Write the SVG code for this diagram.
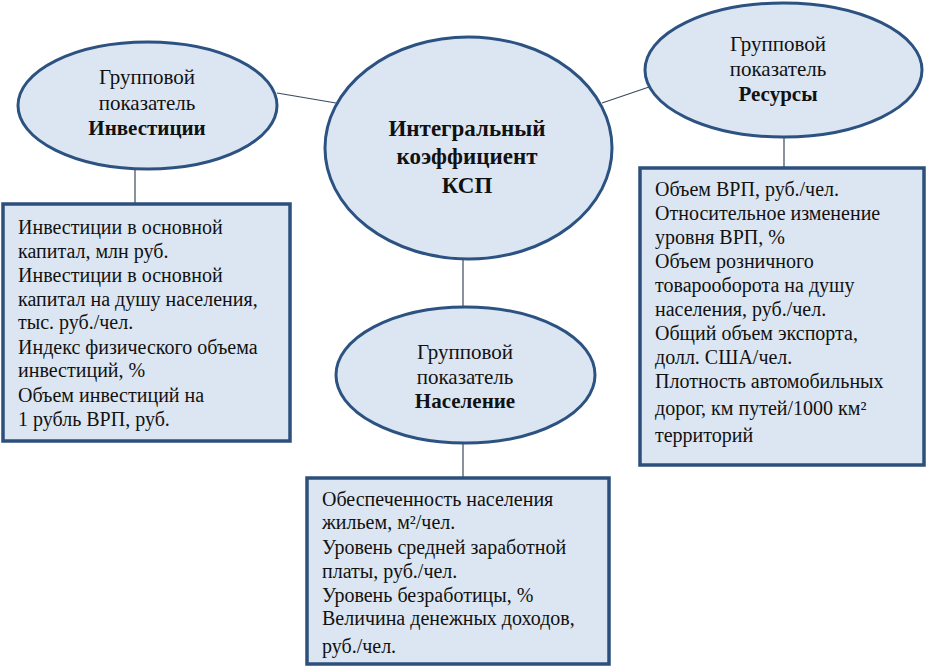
<svg xmlns="http://www.w3.org/2000/svg" width="926" height="670" viewBox="0 0 926 670">
<rect width="926" height="670" fill="#ffffff"/>
<g id="connectors" stroke="#3a4a5c" stroke-width="1.2">
<line x1="277" y1="93" x2="336" y2="103"/>
<line x1="602" y1="103" x2="652" y2="86"/>
<line x1="135" y1="169" x2="135" y2="204"/>
<line x1="784" y1="137" x2="784" y2="168"/>
<line x1="463" y1="259" x2="463" y2="307"/>
<line x1="463" y1="443" x2="463" y2="478"/>
</g>
<g id="center">
<ellipse fill="#dce6f2" stroke="#2c5282" stroke-width="3" cx="468.5" cy="148" rx="143.5" ry="111"/>
<text font-family="Liberation Serif" font-size="23" font-weight="bold" fill="#111" text-anchor="middle" x="467" y="136">Интегральный</text>
<text font-family="Liberation Serif" font-size="23" font-weight="bold" fill="#111" text-anchor="middle" x="467" y="164">коэффициент</text>
<text font-family="Liberation Serif" font-size="23" font-weight="bold" fill="#111" text-anchor="middle" x="467" y="193">КСП</text>
</g>
<g id="invest">
<ellipse fill="#dce6f2" stroke="#2c5282" stroke-width="3" cx="147.5" cy="105.5" rx="129.5" ry="63.5"/>
<text font-family="Liberation Serif" font-size="21" fill="#111" text-anchor="middle" x="147" y="84">Групповой</text>
<text font-family="Liberation Serif" font-size="21" fill="#111" text-anchor="middle" x="147" y="110">показатель</text>
<text font-family="Liberation Serif" font-size="21" font-weight="bold" fill="#111" text-anchor="middle" x="147" y="135">Инвестиции</text>
</g>
<g id="resources">
<ellipse fill="#dce6f2" stroke="#2c5282" stroke-width="3" cx="783.5" cy="70" rx="138.5" ry="67"/>
<text font-family="Liberation Serif" font-size="21" fill="#111" text-anchor="middle" x="778" y="51">Групповой</text>
<text font-family="Liberation Serif" font-size="21" fill="#111" text-anchor="middle" x="778" y="76">показатель</text>
<text font-family="Liberation Serif" font-size="21" font-weight="bold" fill="#111" text-anchor="middle" x="778" y="101">Ресурсы</text>
</g>
<g id="population">
<ellipse fill="#dce6f2" stroke="#2c5282" stroke-width="3" cx="465.5" cy="375" rx="129.5" ry="68"/>
<text font-family="Liberation Serif" font-size="21" fill="#111" text-anchor="middle" x="465" y="359">Групповой</text>
<text font-family="Liberation Serif" font-size="21" fill="#111" text-anchor="middle" x="465" y="384">показатель</text>
<text font-family="Liberation Serif" font-size="21" font-weight="bold" fill="#111" text-anchor="middle" x="465" y="408">Население</text>
</g>
<g id="invest-box">
<rect fill="#dce6f2" stroke="#2c4f7c" stroke-width="3.5" x="3" y="204" width="287" height="237"/>
<text font-family="Liberation Serif" font-size="20" fill="#111" x="18" y="234">Инвестиции в основной</text>
<text font-family="Liberation Serif" font-size="20" fill="#111" x="18" y="258">капитал, млн руб.</text>
<text font-family="Liberation Serif" font-size="20" fill="#111" x="18" y="282">Инвестиции в основной</text>
<text font-family="Liberation Serif" font-size="20" fill="#111" x="18" y="306">капитал на душу населения,</text>
<text font-family="Liberation Serif" font-size="20" fill="#111" x="18" y="329">тыс. руб./чел.</text>
<text font-family="Liberation Serif" font-size="20" fill="#111" x="18" y="354">Индекс физического объема</text>
<text font-family="Liberation Serif" font-size="20" fill="#111" x="18" y="377">инвестиций, %</text>
<text font-family="Liberation Serif" font-size="20" fill="#111" x="18" y="402">Объем инвестиций на</text>
<text font-family="Liberation Serif" font-size="20" fill="#111" x="18" y="426">1 рубль ВРП, руб.</text>
</g>
<g id="resources-box">
<rect fill="#dce6f2" stroke="#2c4f7c" stroke-width="3.5" x="640" y="168" width="284" height="297"/>
<text font-family="Liberation Serif" font-size="20" fill="#111" x="655" y="196">Объем ВРП, руб./чел.</text>
<text font-family="Liberation Serif" font-size="20" fill="#111" x="655" y="220">Относительное изменение</text>
<text font-family="Liberation Serif" font-size="20" fill="#111" x="655" y="244">уровня ВРП, %</text>
<text font-family="Liberation Serif" font-size="20" fill="#111" x="655" y="268">Объем розничного</text>
<text font-family="Liberation Serif" font-size="20" fill="#111" x="655" y="292">товарооборота на душу</text>
<text font-family="Liberation Serif" font-size="20" fill="#111" x="655" y="316">населения, руб./чел.</text>
<text font-family="Liberation Serif" font-size="20" fill="#111" x="655" y="340">Общий объем экспорта,</text>
<text font-family="Liberation Serif" font-size="20" fill="#111" x="655" y="364">долл. США/чел.</text>
<text font-family="Liberation Serif" font-size="20" fill="#111" x="655" y="388">Плотность автомобильных</text>
<text font-family="Liberation Serif" font-size="20" fill="#111" x="655" y="415">дорог, км путей/1000 км²</text>
<text font-family="Liberation Serif" font-size="20" fill="#111" x="655" y="442">территорий</text>
</g>
<g id="population-box">
<rect fill="#dce6f2" stroke="#2c4f7c" stroke-width="3.5" x="307" y="478" width="302" height="186"/>
<text font-family="Liberation Serif" font-size="20" fill="#111" x="322" y="506">Обеспеченность населения</text>
<text font-family="Liberation Serif" font-size="20" fill="#111" x="322" y="529">жильем, м²/чел.</text>
<text font-family="Liberation Serif" font-size="20" fill="#111" x="322" y="554">Уровень средней заработной</text>
<text font-family="Liberation Serif" font-size="20" fill="#111" x="322" y="578">платы, руб./чел.</text>
<text font-family="Liberation Serif" font-size="20" fill="#111" x="322" y="602">Уровень безработицы, %</text>
<text font-family="Liberation Serif" font-size="20" fill="#111" x="322" y="625">Величина денежных доходов,</text>
<text font-family="Liberation Serif" font-size="20" fill="#111" x="322" y="653">руб./чел.</text>
</g>
</svg>
